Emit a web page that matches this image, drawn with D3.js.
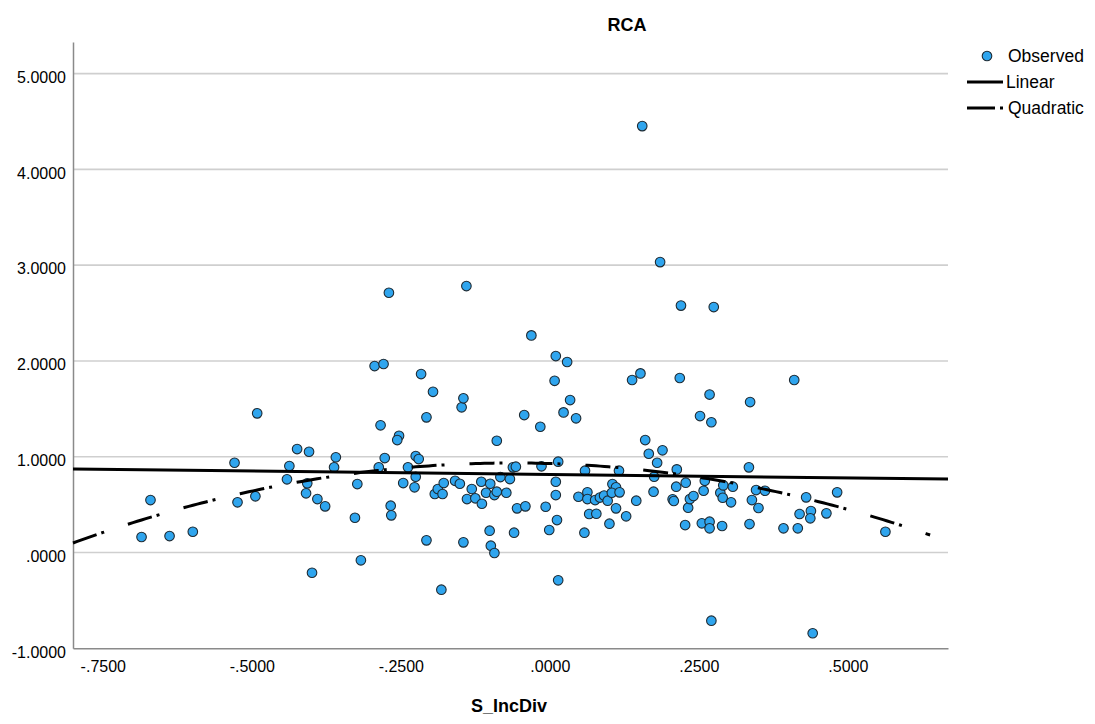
<!DOCTYPE html>
<html>
<head>
<meta charset="utf-8">
<script src="https://cdn.jsdelivr.net/npm/d3@7"></script>
<style>
  html, body { margin: 0; padding: 0; background: #fff; }
  svg text { font-family: "Liberation Sans", Arial, sans-serif; fill: #000; }
</style>
</head>
<body>
<svg id="chart" width="1095" height="724"></svg>
<script>
// ---- data ----
const chartTitle = "RCA";
const xTitle = "S_IncDiv";
const xTicks = [-0.75, -0.5, -0.25, 0, 0.25, 0.5];
const yTicks = [-1, 0, 1, 2, 3, 4, 5];
const xDomain = [-0.8, 0.668];
const yDomain = [-1, 5.33];

const sIncDiv = [
  -0.685,-0.670,-0.638,-0.599,-0.529,-0.524,-0.494,-0.491,-0.441,-0.437,
  -0.424,-0.404,-0.407,-0.409,-0.399,-0.390,-0.377,-0.359,-0.362,-0.327,
  -0.323,-0.317,-0.294,-0.279,-0.284,-0.277,-0.287,-0.270,-0.267,-0.266,
  -0.253,-0.256,-0.246,-0.238,-0.225,-0.220,-0.225,-0.227,-0.216,-0.207,
  -0.207,-0.196,-0.193,-0.188,-0.180,-0.178,-0.182,-0.159,-0.151,-0.148,
  -0.145,-0.145,-0.140,-0.139,-0.131,-0.125,-0.115,-0.114,-0.107,-0.101,
  -0.100,-0.099,-0.093,-0.093,-0.089,-0.089,-0.083,-0.073,-0.067,-0.062,
  -0.057,-0.060,-0.055,-0.043,-0.041,-0.031,-0.016,-0.014,-0.007,-0.001,
   0.010, 0.029, 0.008, 0.034, 0.023, 0.044, 0.014, 0.010, 0.010, 0.012,
   0.014, 0.048, 0.059, 0.063, 0.063, 0.066, 0.058, 0.076, 0.078, 0.084,
   0.091, 0.097, 0.100, 0.105, 0.111, 0.104, 0.117, 0.111, 0.116, 0.128,
   0.138, 0.152, 0.145, 0.155, 0.160, 0.166, 0.175, 0.174, 0.180, 0.185,
   0.189, 0.206, 0.208, 0.212, 0.213, 0.218, 0.220, 0.228, 0.227, 0.232,
   0.235, 0.241, 0.252, 0.258, 0.260, 0.255, 0.268, 0.271, 0.268, 0.268,
   0.271, 0.275, 0.286, 0.290, 0.291, 0.289, 0.307, 0.304, 0.334, 0.336,
   0.339, 0.335, 0.346, 0.361, 0.350, 0.392, 0.416, 0.419, 0.430, 0.438,
   0.437, 0.464, 0.482, 0.563, 0.441, 0.410
];
const rca = [
   0.162, 0.548, 0.172, 0.217, 0.937, 0.524, 0.587, 1.453, 0.764, 0.903,
   1.080, 1.052, 0.722, 0.618,-0.211, 0.558, 0.482, 0.994, 0.889, 0.363,
   0.715,-0.081, 1.947, 1.968, 1.328, 0.986, 0.889, 2.712, 0.489, 0.388,
   1.219, 1.174, 0.725, 0.889, 1.007, 0.976, 0.791, 0.681, 1.863, 1.411,
   0.127, 1.678, 0.611, 0.663, 0.611, 0.725,-0.388, 0.749, 0.718, 1.516,
   1.610, 0.106, 2.782, 0.558, 0.663, 0.566, 0.739, 0.509, 0.624, 0.228,
   0.718, 0.071, 0.600,-0.005, 1.167, 0.635, 0.788, 0.624, 0.767, 0.889,
   0.896, 0.207, 0.461, 1.435, 0.482, 2.267, 1.313, 0.900, 0.478, 0.235,
   2.051, 1.989, 1.793, 1.592, 1.463, 1.401, 0.948, 0.739, 0.600, 0.339,
  -0.290, 0.582, 0.854, 0.628, 0.558, 0.402, 0.207, 0.548, 0.405, 0.574,
   0.595, 0.541, 0.301, 0.715, 0.681, 0.624, 0.628, 0.461, 0.854, 0.378,
   1.801, 1.870, 0.541, 4.452, 1.174, 1.031, 0.791, 0.635, 0.937, 3.032,
   1.067, 0.555, 0.538, 0.687, 0.868, 1.822, 2.578, 0.729, 0.287, 0.468,
   0.558, 0.590, 1.425, 0.645, 0.749, 0.305, 1.649, 1.360, 0.322, 0.253,
  -0.712, 2.563, 0.624, 0.572, 0.701, 0.277, 0.687, 0.524, 0.889, 1.571,
   0.548, 0.297, 0.652, 0.645, 0.465, 0.253, 0.253, 0.402, 0.576, 0.433,
   0.357, 0.409, 0.628, 0.217,-0.843, 1.801
];

// fitted curves: y = a + b*x (+ c*x^2)
const linearCoef = [0.815, -0.0715];
const quadCoef = [0.929, -0.191, -1.5347];
const quadXRange = [-0.8, 0.638];
const legendLabels = ["Observed", "Linear", "Quadratic"];

// ---- drawing ----
const svg = d3.select("#chart");
const plot = {left: 73, right: 948, top: 42, bottom: 648.3};
const x = d3.scaleLinear().domain(xDomain).range([plot.left, plot.right]);
const y = d3.scaleLinear().domain(yDomain).range([plot.bottom, plot.top]);

const fmt = v => {
  let s = d3.format(".4f")(Math.abs(v));
  if (Math.abs(v) < 1) s = s.replace(/^0/, "");
  return (v < 0 ? "-" : "") + s;
};

svg.append("rect").attr("width", 1095).attr("height", 724).attr("fill", "#fff");

// gridlines
svg.append("g").selectAll("line").data(yTicks.filter(t => t > yDomain[0])).join("line")
  .attr("x1", plot.left).attr("x2", plot.right)
  .attr("y1", d => y(d)).attr("y2", d => y(d))
  .attr("stroke", "#cfcfcf").attr("stroke-width", 1.6);

// axes
const yAxis = d3.axisLeft(y).tickValues(yTicks).tickFormat(fmt).tickSize(0).tickPadding(7);
const gy = svg.append("g").attr("transform", `translate(${plot.left},0)`).call(yAxis);
gy.select(".domain").attr("stroke", "#8a8a8a").attr("stroke-width", 1.5);
gy.selectAll("text").attr("font-size", 16).attr("dy", "0.55em")
  .style("font-family", "'Liberation Sans', Arial, sans-serif");

const xAxis = d3.axisBottom(x).tickValues(xTicks).tickFormat(fmt).tickSize(0).tickPadding(12);
const gx = svg.append("g").attr("transform", `translate(0,${plot.bottom})`).call(xAxis);
gx.select(".domain").attr("stroke", "#8a8a8a").attr("stroke-width", 1.5);
gx.selectAll("text").attr("font-size", 16)
  .style("font-family", "'Liberation Sans', Arial, sans-serif");

// points
const pts = sIncDiv.map((v, i) => ({x: v, y: rca[i]}));
svg.append("g").selectAll("circle").data(pts).join("circle")
  .attr("cx", d => x(d.x)).attr("cy", d => y(d.y)).attr("r", 4.8)
  .attr("fill", "#2fa5ee").attr("stroke", "#1d2a33").attr("stroke-width", 1.1);

// fit lines
const lin = v => linearCoef[0] + linearCoef[1] * v;
const quad = v => quadCoef[0] + quadCoef[1] * v + quadCoef[2] * v * v;
const line = d3.line().x(d => x(d[0])).y(d => y(d[1]));
svg.append("path").attr("d", line(xDomain.map(v => [v, lin(v)])))
  .attr("fill", "none").attr("stroke", "#000").attr("stroke-width", 3);
const qx = d3.range(quadXRange[0], quadXRange[1] + 1e-9, (quadXRange[1] - quadXRange[0]) / 200);
svg.append("path").attr("d", line(qx.map(v => [v, quad(v)])))
  .attr("fill", "none").attr("stroke", "#000").attr("stroke-width", 3)
  .attr("stroke-dasharray", "25,5,3,25");

// titles
svg.append("text").attr("x", 627).attr("y", 31).attr("text-anchor", "middle")
  .attr("font-size", 18).attr("font-weight", "bold").text(chartTitle);
svg.append("text").attr("x", 509).attr("y", 712).attr("text-anchor", "middle")
  .attr("font-size", 18).attr("font-weight", "bold").text(xTitle);

// legend
const lg = svg.append("g");
lg.append("circle").attr("cx", 987).attr("cy", 56).attr("r", 4.8)
  .attr("fill", "#2fa5ee").attr("stroke", "#1d2a33").attr("stroke-width", 1.1);
lg.append("line").attr("x1", 967).attr("x2", 1003).attr("y1", 82).attr("y2", 82)
  .attr("stroke", "#000").attr("stroke-width", 3);
lg.append("line").attr("x1", 967).attr("x2", 1003).attr("y1", 108).attr("y2", 108)
  .attr("stroke", "#000").attr("stroke-width", 3).attr("stroke-dasharray", "28,5,3,20");
[56, 82, 108].forEach((yy, i) => {
  lg.append("text").attr("x", i === 1 ? 1006 : 1008).attr("y", yy).attr("dy", "0.36em")
    .attr("font-size", 17.5).text(legendLabels[i]);
});
</script>
</body>
</html>
